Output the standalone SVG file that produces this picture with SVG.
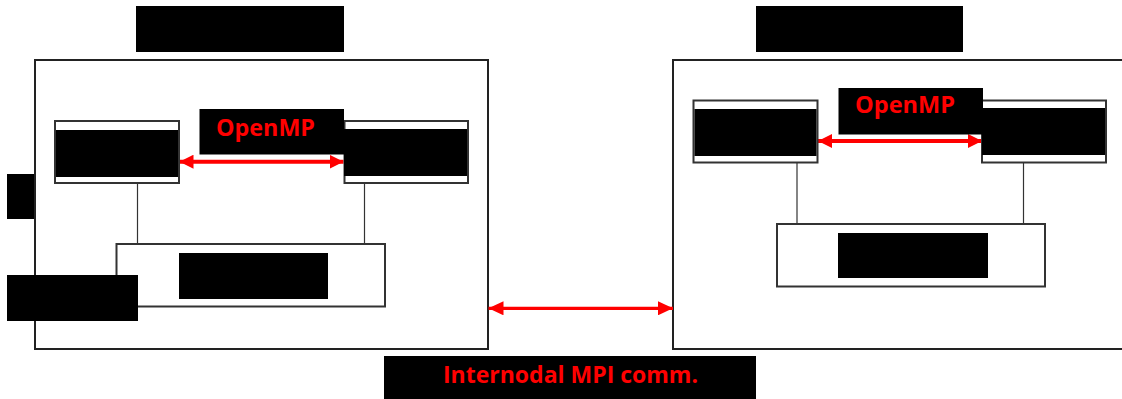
<svg xmlns="http://www.w3.org/2000/svg" width="1122" height="399" viewBox="0 0 1122 399">
<style>
.node{fill:#fff;stroke:#222;stroke-width:2}
.core{fill:#fff;stroke:#333;stroke-width:2}
.blk{fill:#000}
.link{stroke:#333;stroke-width:1.2;fill:none}
.arr{stroke:#ff0000;fill:none}
.lbl{font-family:"Open Sans","Liberation Sans",sans-serif;font-weight:bold;font-size:24px;fill:#ff0000}
</style>
<defs>
<marker id="ah" viewBox="0 0 14 14" refX="14" refY="7" markerWidth="14" markerHeight="14" markerUnits="userSpaceOnUse" orient="auto-start-reverse">
<path d="M0,0 L14,7 L0,14 z" fill="#ff0000"/>
</marker>
<marker id="ah2" viewBox="0 0 15 14" refX="15" refY="7" markerWidth="15" markerHeight="14" markerUnits="userSpaceOnUse" orient="auto-start-reverse">
<path d="M0,0 L15,7 L0,14 z" fill="#ff0000"/>
</marker>
</defs>
<rect width="1122" height="399" fill="#fff"/>

<g id="node1">
<rect class="blk" x="136" y="6" width="208" height="46"/>
<rect class="node" x="35" y="60" width="453" height="289"/>
</g>
<g id="node2">
<rect class="blk" x="756" y="6" width="207" height="46"/>
<rect class="node" x="673" y="60" width="452" height="289"/>
</g>

<g id="connectors">
<line class="link" x1="137.5" y1="183" x2="137.5" y2="244"/>
<line class="link" x1="364.5" y1="183" x2="364.5" y2="244"/>
<line class="link" x1="797" y1="163" x2="797" y2="224"/>
<line class="link" x1="1023.5" y1="163" x2="1023.5" y2="224"/>
<line class="arr" x1="179.5" y1="161.7" x2="343.5" y2="161.7" stroke-width="4" marker-start="url(#ah)" marker-end="url(#ah)"/>
<line class="arr" x1="818" y1="141" x2="982" y2="141" stroke-width="4" marker-start="url(#ah)" marker-end="url(#ah)"/>
<line class="arr" x1="488.5" y1="308.3" x2="673" y2="308.3" stroke-width="3.3" marker-start="url(#ah2)" marker-end="url(#ah2)"/>
</g>

<g id="n1-core1">
<rect class="core" x="55" y="121" width="124" height="62"/>
<rect class="blk" x="56" y="130" width="122" height="47"/>
</g>
<g id="n1-core2">
<rect class="core" x="344.5" y="121" width="123.5" height="62"/>
<rect class="blk" x="344" y="129" width="123" height="47"/>
</g>
<g id="n1-memory">
<rect class="core" x="116.5" y="244" width="268.5" height="62.5"/>
<rect class="blk" x="179" y="253" width="149" height="46"/>
</g>
<g id="n1-labels">
<rect class="blk" x="7" y="174" width="27" height="45"/>
<rect class="blk" x="7" y="275" width="131" height="46"/>
</g>
<g id="n1-openmp">
<rect class="blk" x="199.5" y="109" width="144.5" height="45.5"/>
<text class="lbl" x="216" y="135.7" textLength="99" lengthAdjust="spacingAndGlyphs">OpenMP</text>
</g>

<g id="n2-core1">
<rect class="core" x="693.5" y="100.5" width="124" height="62"/>
<rect class="blk" x="694.5" y="109" width="122" height="47"/>
</g>
<g id="n2-core2">
<rect class="core" x="982" y="100.5" width="124" height="62"/>
<rect class="blk" x="982" y="108" width="123" height="47"/>
</g>
<g id="n2-memory">
<rect class="core" x="777" y="224" width="268" height="62.5"/>
<rect class="blk" x="838" y="233" width="150" height="45"/>
</g>
<g id="n2-openmp">
<rect class="blk" x="838.5" y="88" width="144.5" height="46.5"/>
<text class="lbl" x="855" y="113.3" textLength="100" lengthAdjust="spacingAndGlyphs">OpenMP</text>
</g>

<g id="mpi-label">
<rect class="blk" x="384" y="356" width="372" height="43"/>
<text class="lbl" x="443" y="382.7" textLength="255" lengthAdjust="spacingAndGlyphs">Internodal MPI comm.</text>
</g>
</svg>
